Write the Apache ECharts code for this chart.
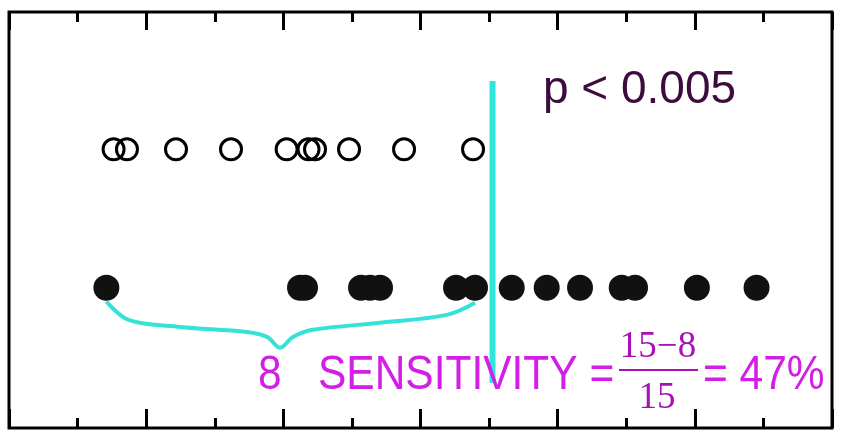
<!DOCTYPE html>
<html>
<head>
<meta charset="utf-8">
<script src="https://cdn.jsdelivr.net/npm/echarts@6/dist/echarts.min.js"></script>
<style>html,body{margin:0;padding:0;background:#fff}#c{width:844px;height:431px}</style>
</head>
<body>
<div id="c"></div>
<script>
// x-axis range and ticks
var xMin = 0, xMax = 12, minorStep = 1, majorStep = 2;
// row levels (0 = bottom of frame, 100 = top)
var openRowY = 67.0;
var filledRowY = 33.7;
// open circles (top row)
var openValues = [1.525, 1.72, 2.435, 3.237, 4.048, 4.367, 4.462, 4.958, 5.76, 6.766];
// filled circles (bottom row)
var filledValues = [1.42, 4.243, 4.316, 5.133, 5.264, 5.41, 6.518, 6.795,
                    7.33, 7.84, 8.326, 8.934, 9.128, 10.03, 10.90];
// cut-off line
var cutoffValue = 7.05;
var cutoffYRange = [10.8, 83.4];
// brace shape: relative position along bracket (0..1) and level
var braceT = [0, 0.06, 0.2, 0.381, 0.436, 0.471, 0.506, 0.56, 0.742, 0.924, 1.0];
var braceY = [30.4, 26.0, 24.3, 23.1, 21.9, 19.3, 21.9, 23.6, 25.3, 27.2, 30.1];
var bracketCount = 8;
// texts
var pText = 'p < 0.005';
var countText = '8';
var sensLabel = 'SENSITIVITY =';
var fracNum = '15\u22128';
var fracDen = '15';
var resultText = '= 47%';

var chart = echarts.init(document.getElementById('c'), null, {renderer: 'canvas'});

var bs = filledValues[0], be = filledValues[bracketCount - 1];
var braceData = braceT.map(function (t, i) { return [bs + t * (be - bs), braceY[i]]; });

function mkAxis(pos, step, len) {
  return {
    type: 'value', position: pos, min: xMin, max: xMax, interval: step,
    axisLine: {show: false},
    axisTick: {show: true, inside: true, length: len, lineStyle: {color: '#000', width: 3}},
    axisLabel: {show: false}, splitLine: {show: false}
  };
}

var magenta = '#d21ee6';
var fracColor = '#a812b4';

chart.setOption({
  animation: false,
  backgroundColor: '#fff',
  grid: {left: 9, right: 12, top: 12, bottom: 3, show: true, borderColor: '#000', borderWidth: 3, backgroundColor: '#fff'},
  xAxis: [mkAxis('bottom', minorStep, 10), mkAxis('bottom', majorStep, 19),
          mkAxis('top', minorStep, 10), mkAxis('top', majorStep, 18)],
  yAxis: {type: 'value', min: 0, max: 100, show: false, splitLine: {show: false}},
  series: [
    {
      type: 'scatter', symbol: 'circle', symbolSize: 21,
      data: openValues.map(function (v) { return [v, openRowY]; }),
      itemStyle: {color: 'rgba(255,255,255,0)', borderColor: '#000', borderWidth: 3, opacity: 1},
      z: 3
    },
    {
      type: 'scatter', symbol: 'circle', symbolSize: 26,
      data: filledValues.map(function (v) { return [v, filledRowY]; }),
      itemStyle: {color: '#111', opacity: 1},
      z: 3
    },
    {
      type: 'line', data: braceData, smooth: 0.35, symbol: 'none',
      lineStyle: {color: '#34e2da', width: 4}, z: 4
    },
    {
      type: 'line', data: [[cutoffValue, cutoffYRange[0]], [cutoffValue, cutoffYRange[1]]], symbol: 'none',
      lineStyle: {color: '#2ee6dc', width: 6}, z: 5
    }
  ],
  graphic: [
    {type: 'text', x: 543, y: 90, z: 10, style: {text: pText, font: '46px Arial, "Liberation Sans"', fill: '#3d0b3d', textAlign: 'left', textVerticalAlign: 'middle'}},
    {type: 'text', x: 258, y: 376, z: 10, scaleX: 0.885, style: {text: countText, font: '48px Arial, "Liberation Sans"', fill: magenta, textAlign: 'left', textVerticalAlign: 'middle'}},
    {type: 'text', x: 318, y: 376, z: 10, scaleX: 0.885, style: {text: sensLabel, font: '48px Arial, "Liberation Sans"', fill: magenta, textAlign: 'left', textVerticalAlign: 'middle'}},
    {type: 'text', x: 658, y: 347, z: 10, style: {text: fracNum, font: '37px "Liberation Serif", "Times New Roman", serif', fill: fracColor, textAlign: 'center', textVerticalAlign: 'middle'}},
    {type: 'line', z: 10, shape: {x1: 619, y1: 370, x2: 698, y2: 370}, style: {stroke: fracColor, lineWidth: 2}},
    {type: 'text', x: 657, y: 398, z: 10, style: {text: fracDen, font: '37px "Liberation Serif", "Times New Roman", serif', fill: fracColor, textAlign: 'center', textVerticalAlign: 'middle'}},
    {type: 'text', x: 703, y: 376, z: 10, scaleX: 0.885, style: {text: resultText, font: '48px Arial, "Liberation Sans"', fill: magenta, textAlign: 'left', textVerticalAlign: 'middle'}}
  ]
});
</script>
</body>
</html>
